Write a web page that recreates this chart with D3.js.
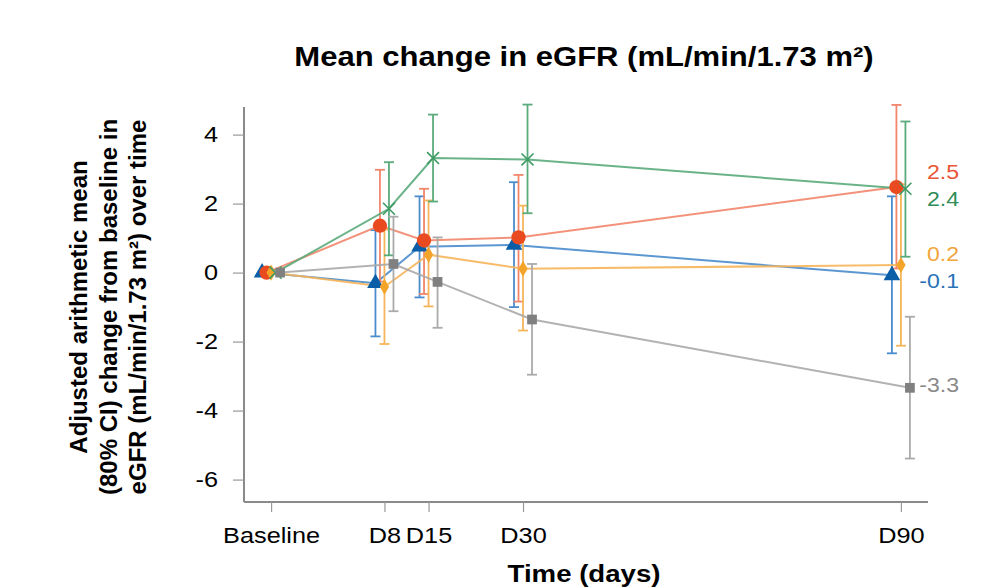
<!DOCTYPE html>
<html>
<head>
<meta charset="utf-8">
<title>eGFR change</title>
<script src="https://cdn.jsdelivr.net/npm/d3@7"></script>
<style>
    body { margin: 0; background: #fff; }
    svg text { font-family: "Liberation Sans", Arial, sans-serif; }
</style>
</head>
<body>
<svg id="chart" width="982" height="588"></svg>
<script>
    // time points (Baseline sits at day -10 on the axis)
    var timeLabels = ["Baseline", "D8", "D15", "D30", "D90"];
    var timeDays = [-10, 8, 15, 30, 90];

    // adjusted means and 80% CI per group
    var blueMean = [0, -0.31, 0.75, 0.80, -0.08];
    var blueLo = [0, -1.85, -0.72, -1.00, -2.34];
    var blueHi = [0, 1.23, 2.21, 2.62, 2.21];

    var redMean = [0, 1.36, 0.93, 1.02, 2.48];
    var redLo = [0, -0.26, -0.62, -0.84, 0.12];
    var redHi = [0, 2.98, 2.43, 2.83, 4.86];

    var orangeMean = [0, -0.41, 0.52, 0.11, 0.22];
    var orangeLo = [0, -2.07, -0.98, -1.68, -2.12];
    var orangeHi = [0, 1.25, 2.09, 1.94, 2.56];

    var greenMean = [0, 1.85, 3.32, 3.28, 2.43];
    var greenLo = [0, 0.50, 2.06, 1.72, 0.46];
    var greenHi = [0, 3.20, 4.58, 4.87, 4.38];

    var grayMean = [0, 0.25, -0.27, -1.36, -3.34];
    var grayLo = [0, -1.12, -1.60, -2.96, -5.39];
    var grayHi = [0, 1.62, 1.02, 0.25, -1.28];

    var yTicks = [-6, -4, -2, 0, 2, 4];

    var groups = [
        { mean: blueMean, lo: blueLo, hi: blueHi, shift: -1.43, marker: "triangle", col: "#0a5ea8", line: "#4a8ccc", text: "#2a73b9" },
        { mean: redMean, lo: redLo, hi: redHi, shift: -0.715, marker: "circle", col: "#e94a1f", line: "#f2866b", text: "#ea5635" },
        { mean: orangeMean, lo: orangeLo, hi: orangeHi, shift: 0, marker: "diamond", col: "#f5a42a", line: "#f6b55a", text: "#f2a53a" },
        { mean: greenMean, lo: greenLo, hi: greenHi, shift: 0.715, marker: "cross", col: "#3d9a63", line: "#5aab7b", text: "#2e8d58" },
        { mean: grayMean, lo: grayLo, hi: grayHi, shift: 1.43, marker: "square", col: "#808080", line: "#aaaaaa", text: "#8a8a8a" }
    ];

    var loc = d3.formatLocale({ decimal: ".", thousands: ",", grouping: [3], currency: ["", ""], minus: "-" });
    var fmt1 = loc.format(".1f");
    var wide = 1.15; // the reference text is drawn a bit wider than normal

    var svg = d3.select("#chart");
    var x = d3.scaleLinear().domain([-14.3, 94.3]).range([244, 928]);
    var y = d3.scaleLinear().domain([-6.65, 4.8]).range([502, 107]);

    // title
    svg.append("text")
        .attr("transform", "translate(584,66) scale(" + wide + ",1)")
        .attr("text-anchor", "middle")
        .style("font-size", "27px").style("font-weight", "bold")
        .text("Mean change in eGFR (mL/min/1.73 m²)");

    // y axis
    var yAxis = svg.append("g")
        .attr("transform", "translate(244,0)")
        .call(d3.axisLeft(y).tickValues(yTicks).tickSize(11).tickPadding(14).tickFormat(loc.format("d")));
    yAxis.select(".domain").attr("stroke", "#8a8a8a").attr("stroke-width", 2).attr("d", "M0," + y.range()[1] + "V" + y.range()[0]);
    yAxis.selectAll(".tick line").attr("stroke", "#999").attr("stroke-width", 1.2);
    yAxis.selectAll(".tick text").style("font-size", "22px").attr("fill", "#000")
        .attr("x", 0).attr("transform", "translate(-26,0) scale(" + wide + ",1)");

    // x axis
    var xAxis = svg.append("g")
        .attr("transform", "translate(0,502)")
        .call(d3.axisBottom(x).tickValues(timeDays).tickSize(10).tickPadding(15)
            .tickFormat(function(d, i) { return timeLabels[i]; }));
    xAxis.select(".domain").attr("stroke", "#8a8a8a").attr("stroke-width", 2).attr("d", "M" + x.range()[0] + ",0H" + x.range()[1]);
    xAxis.selectAll(".tick line").attr("stroke", "#999").attr("stroke-width", 1.2);
    xAxis.selectAll(".tick text").style("font-size", "22px").attr("fill", "#000")
        .attr("transform", "scale(" + wide + ",1)");

    // axis titles
    svg.append("text")
        .attr("transform", "translate(584,582) scale(" + wide + ",1)")
        .attr("text-anchor", "middle")
        .style("font-size", "24px").style("font-weight", "bold")
        .text("Time (days)");

    var yTitle = ["Adjusted arithmetic mean", "(80% CI) change from baseline in", "eGFR (mL/min/1.73 m²) over time"];
    svg.append("g")
        .attr("transform", "translate(87,307) rotate(-90)")
        .selectAll("text").data(yTitle).enter()
        .append("text")
        .attr("x", 0).attr("y", function(d, i) { return i * 29.5; })
        .attr("text-anchor", "middle")
        .style("font-size", "24px").style("font-weight", "bold")
        .text(function(d) { return d; });

    var plot = svg.append("g");

    function px(g, i) { return x(timeDays[i] + g.shift); }

    groups.forEach(function(g) {
        var idx = d3.range(timeDays.length);
        // connecting line
        plot.append("path")
            .attr("fill", "none")
            .attr("stroke", g.line)
            .attr("stroke-width", 2)
            .attr("stroke-opacity", 0.9)
            .attr("d", d3.line().x(function(i) { return px(g, i); }).y(function(i) { return y(g.mean[i]); })(idx));

        // error bars
        var bars = plot.append("g").attr("stroke", g.line).attr("stroke-width", 1.8);
        idx.filter(function(i) { return g.hi[i] !== g.lo[i]; }).forEach(function(i) {
            var cx = px(g, i);
            bars.append("line").attr("x1", cx).attr("x2", cx).attr("y1", y(g.lo[i])).attr("y2", y(g.hi[i]));
            bars.append("line").attr("x1", cx - 5).attr("x2", cx + 5).attr("y1", y(g.lo[i])).attr("y2", y(g.lo[i]));
            bars.append("line").attr("x1", cx - 5).attr("x2", cx + 5).attr("y1", y(g.hi[i])).attr("y2", y(g.hi[i]));
        });
    });

    // markers drawn on top of all lines
    var symbolType = {
        triangle: [d3.symbolTriangle, 120],
        circle: [d3.symbolCircle, 160],
        diamond: [d3.symbolDiamond, 75],
        square: [d3.symbolSquare, 95],
        cross: [d3.symbolX, 95]
    };
    groups.forEach(function(g) {
        var s = symbolType[g.marker];
        plot.append("g").selectAll("path").data(d3.range(timeDays.length)).enter()
            .append("path")
            .attr("transform", function(i) { return "translate(" + px(g, i) + "," + y(g.mean[i]) + ")"; })
            .attr("d", d3.symbol().type(s[0]).size(s[1]))
            .attr("fill", g.marker === "cross" ? "none" : g.col)
            .attr("stroke", g.col)
            .attr("stroke-width", g.marker === "cross" ? 1.6 : 0);
    });

    // end labels at D90, spread apart when they collide
    var last = timeDays.length - 1;
    var labels = groups.map(function(g) { return { g: g, y: y(g.mean[last]) }; })
        .sort(function(a, b) { return a.y - b.y; });
    for (var k = 0; k < labels.length - 1; k++) {
        var a = labels[k], b = labels[k + 1];
        if (b.y - a.y < 27) {
            var mid = (a.y + b.y) / 2;
            a.y = mid - 13.5; b.y = mid + 13.5;
        }
    }
    svg.append("g").selectAll("text").data(labels).enter()
        .append("text")
        .attr("transform", function(d) { return "translate(959," + (d.y - 3) + ") scale(1.1,1)"; })
        .attr("dy", "0.35em")
        .attr("text-anchor", "end")
        .attr("fill", function(d) { return d.g.text; })
        .style("font-size", "21px")
        .text(function(d) { return fmt1(d.g.mean[last]); });
</script>
</body>
</html>
